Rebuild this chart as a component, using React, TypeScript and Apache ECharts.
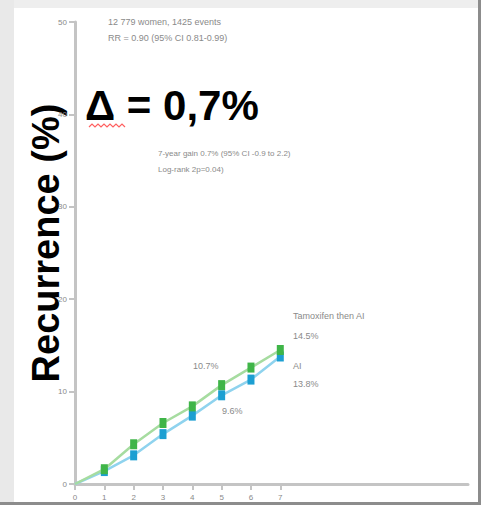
import React, { useEffect, useRef } from "react";
import * as echarts from "echarts";

const years = [0, 1, 2, 3, 4, 5, 6, 7];
const tamThenAI = [0, 1.6, 4.3, 6.6, 8.4, 10.7, 12.6, 14.5];
const aiOnly = [0, 1.4, 3.1, 5.4, 7.4, 9.6, 11.3, 13.8];
const yTicks = [0, 10, 20, 30, 40, 50];

export default function App() {
  const ref = useRef<HTMLDivElement>(null);
  useEffect(() => {
    if (!ref.current) return;
    const chart = echarts.init(ref.current, null, { renderer: "svg" });
    const grayText = "#8a8a8a";
    const small = { fontFamily: "Liberation Sans, Arial", fontSize: 8, fill: grayText };
    const mid = { fontFamily: "Liberation Sans, Arial", fontSize: 9, fill: grayText };
    const toPairs = (arr: number[]) => years.map((y, i) => [y, arr[i]]);
    chart.setOption({
      animation: false,
      backgroundColor: "#ffffff",
      grid: { left: 75, right: 13, top: 22, bottom: 21 },
      xAxis: {
        type: "value",
        min: 0,
        max: 13.4,
        interval: 1,
        splitLine: { show: false },
        axisLine: { lineStyle: { color: "#c4c4c4", width: 3 } },
        axisTick: { customValues: years, length: 6, lineStyle: { color: "#c4c4c4", width: 2 } },
        axisLabel: { customValues: years, fontSize: 8, color: grayText, margin: 9, fontFamily: "Liberation Sans, Arial" },
      },
      yAxis: {
        type: "value",
        min: yTicks[0],
        max: yTicks[yTicks.length - 1],
        interval: 10,
        splitLine: { show: false },
        axisLine: { show: true, lineStyle: { color: "#c4c4c4", width: 3 } },
        axisTick: { show: true, length: 6, lineStyle: { color: "#c4c4c4", width: 2 } },
        axisLabel: { fontSize: 8, color: grayText, margin: 8, fontFamily: "Liberation Sans, Arial" },
      },
      series: [
        {
          name: "Tamoxifen then AI",
          type: "line",
          data: toPairs(tamThenAI),
          lineStyle: { color: "#a6dca0", width: 2.5 },
          itemStyle: { color: "#3fb548" },
          symbol: (v: number[]) => (v[0] === 0 ? "none" : "rect"),
          symbolSize: [7, 10],
          z: 3,
        },
        {
          name: "AI",
          type: "line",
          data: toPairs(aiOnly),
          lineStyle: { color: "#8fd3ee", width: 2.5 },
          itemStyle: { color: "#1c9fd2" },
          symbol: (v: number[]) => (v[0] === 0 ? "none" : "rect"),
          symbolSize: [7, 10],
          z: 2,
        },
      ],
      graphic: [
        { type: "rect", shape: { x: 0, y: 0, width: 481, height: 8 }, style: { fill: "#eeeeee" }, silent: true },
        { type: "rect", shape: { x: 0, y: 0, width: 14, height: 505 }, style: { fill: "#e9e9e9" }, silent: true },
        { type: "rect", shape: { x: 478, y: 0, width: 3, height: 505 }, style: { fill: "#8c8c8c" }, silent: true },
        { type: "rect", shape: { x: 0, y: 502, width: 481, height: 3 }, style: { fill: "#8c8c8c" }, silent: true },
        { type: "text", x: 108, y: 17, style: { ...mid, text: "12 779 women, 1425 events" } },
        { type: "text", x: 108, y: 33, style: { ...mid, text: "RR = 0.90 (95% CI 0.81-0.99)" } },
        {
          type: "text",
          x: 85,
          y: 84,
          style: { text: "Δ = 0,7%", fontFamily: "Liberation Sans, Arial", fontWeight: "bold", fontSize: 42, fill: "#000000" },
        },
        {
          type: "polyline",
          shape: { points: [[89, 127], [92, 124], [95, 127], [98, 124], [101, 127], [104, 124], [107, 127], [110, 124], [113, 127], [116, 124], [119, 127], [122, 124], [125, 127]] },
          style: { stroke: "#ff6060", lineWidth: 1.2, fill: "none" },
        },
        {
          type: "text",
          x: 46,
          y: 243,
          rotation: Math.PI / 2,
          style: {
            text: "Recurrence (%)",
            fontFamily: "Liberation Sans, Arial",
            fontWeight: "bold",
            fontSize: 38,
            fill: "#000000",
            align: "center",
            verticalAlign: "middle",
          },
        },
        { type: "text", x: 158, y: 149, style: { ...small, text: "7-year gain 0.7% (95% CI -0.9 to 2.2)" } },
        { type: "text", x: 158, y: 165, style: { ...small, text: "Log-rank 2p=0.04)" } },
        { type: "text", x: 293, y: 311, style: { ...mid, text: "Tamoxifen then AI" } },
        { type: "text", x: 293, y: 331, style: { ...mid, text: "14.5%" } },
        { type: "text", x: 293, y: 361, style: { ...mid, text: "AI" } },
        { type: "text", x: 293, y: 379, style: { ...mid, text: "13.8%" } },
        { type: "text", x: 193, y: 361, style: { ...mid, text: "10.7%" } },
        { type: "text", x: 222, y: 406, style: { ...mid, text: "9.6%" } },
      ],
    });
    return () => chart.dispose();
  }, []);
  return <div ref={ref} style={{ position: "fixed", left: 0, top: 0, width: 481, height: 505 }} />;
}
